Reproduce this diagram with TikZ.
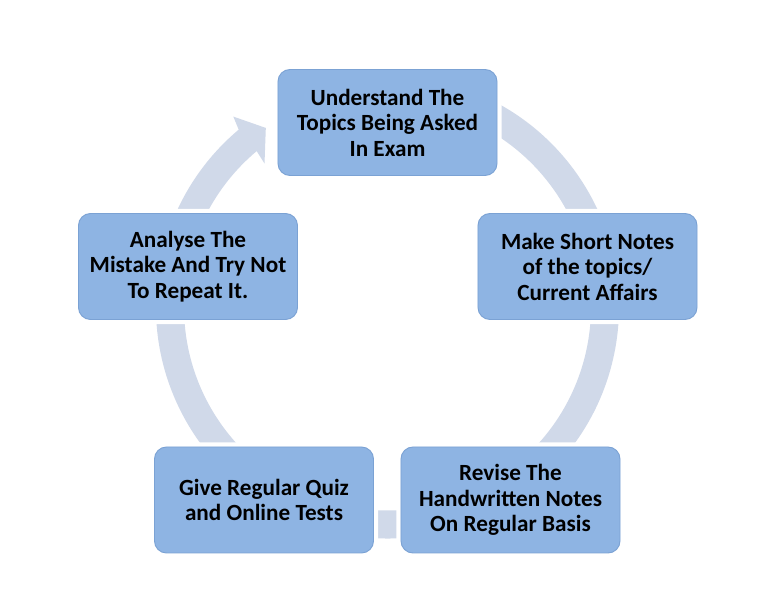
\documentclass[tikz,border=0pt]{standalone}
\usepackage{fontspec}
\setmainfont{Carlito}
\definecolor{boxfill}{HTML}{8EB4E3}
\definecolor{boxline}{HTML}{7BA2D4}
\definecolor{ringc}{HTML}{D0D9E9}
\tikzset{
  stepbox/.style={rectangle, rounded corners=12*0.03cm, fill=boxfill, draw=boxline, line width=0.8pt,
    preaction={draw=white, line width=8pt},
    minimum width=6.57cm, minimum height=3.18cm, inner sep=0pt, align=center,
    font=\fontsize{19.8pt}{21.8pt}\selectfont\bfseries, text=black}
}
\begin{document}
\begin{tikzpicture}[x=0.03cm,y=0.03cm]
\useasboundingbox (0,0) rectangle (777,600);
\fill[white] (0,0) rectangle (777,600);
% ring arrow
\begin{scope}[shift={(387.5,293)}]
\fill[ringc] (80:231.5) arc[start angle=80, end angle=-230, radius=231.5]
  -- (129:245) -- (124.2:216.5) -- (130.6:189) -- (130:203.5)
  arc[start angle=-230, end angle=80, radius=203.5] -- cycle;
\end{scope}
\node[stepbox] (a) at (387.5,477.5) {Understand The\\Topics Being Asked\\In Exam};
\node[stepbox] (b) at (587.5,333.5) {Make Short Notes\\of the topics/\\Current Affairs};
\node[stepbox] (c) at (510.5,100) {Revise The\\Handwritten Notes\\On Regular Basis};
\node[stepbox] (d) at (264,100) {Give Regular Quiz\\and Online Tests};
\node[stepbox] (e) at (188,333.5) {Analyse The\\Mistake And Try Not\\To Repeat It.};
\end{tikzpicture}
\end{document}
